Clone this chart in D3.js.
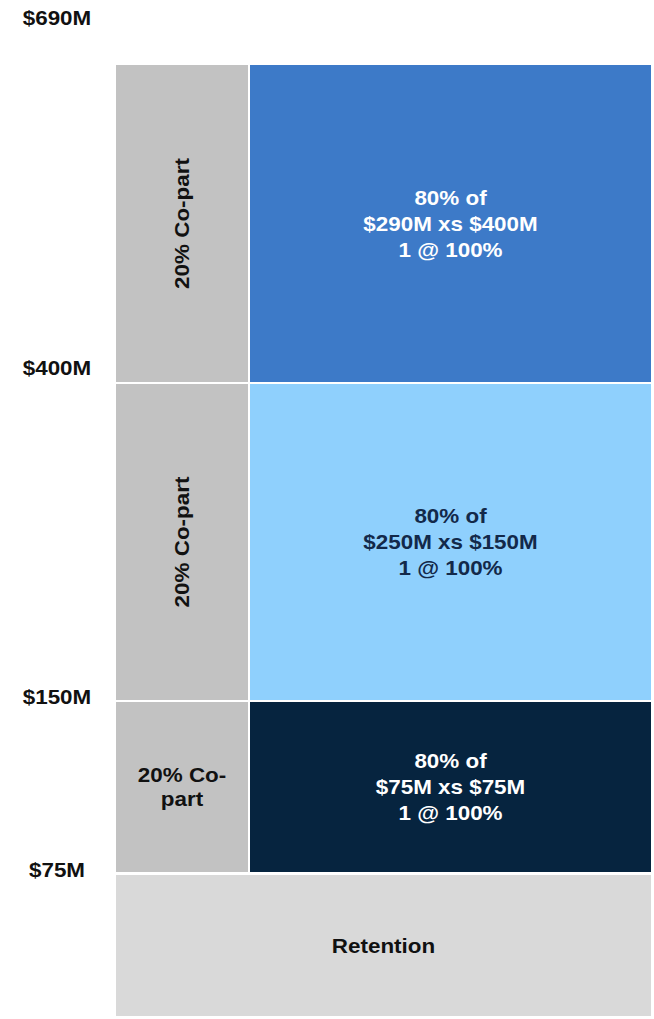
<!DOCTYPE html>
<html>
<head>
<meta charset="utf-8">
<script src="https://cdn.jsdelivr.net/npm/d3@7"></script>
<style>
  html, body { margin: 0; padding: 0; background: #fff; }
  svg { display: block; }
  text { font-family: "Liberation Sans", Arial, sans-serif; font-weight: bold; }
</style>
</head>
<body>
<svg id="chart" width="654" height="1019"></svg>
<script>
// ---- data ----
const tickValues = [690, 400, 150, 75];
const tickLabels = ["$690M", "$400M", "$150M", "$75M"];
const layerLow = [400, 150, 75];
const layerHigh = [690, 400, 150];
const layerLines = [
  ["80% of", "$290M xs $400M", "1 @ 100%"],
  ["80% of", "$250M xs $150M", "1 @ 100%"],
  ["80% of", "$75M xs $75M", "1 @ 100%"]
];
const coPartLabels = ["20% Co-part", "20% Co-part", "20% Co-part"];
const retentionLow = 0;
const retentionHigh = 75;
const retentionLabel = "Retention";

// ---- styles / layout ----
const layerColors = ["#3d7ac8", "#8fd0fd", "#06243f"];
const layerText = ["#ffffff", "#13294a", "#ffffff"];
const coPartColor = "#c2c2c2";
const retentionColor = "#d9d9d9";
const stretch = 1.15;
const fs = 19.5;

const svg = d3.select("#chart");

// piecewise scale (tower layers are not drawn to linear scale)
const y = d3.scaleLinear()
  .domain([0, 75, 150, 400, 690])
  .range([1016, 873, 701, 383, 65]);

const xCo0 = 116, xCo1 = 248, xL0 = 250, xL1 = 651;
const gap = 2;

function stretchedText(g, cx, cy, lines, color, lh, rotate) {
  const grp = g.append("g")
    .attr("transform", `translate(${cx},${cy})` + (rotate ? " rotate(-90)" : "") + ` scale(${stretch},1)`);
  const n = lines.length;
  lines.forEach((t, i) => {
    grp.append("text")
      .attr("x", 0)
      .attr("y", (i - (n - 1) / 2) * lh)
      .attr("dy", "0.36em")
      .attr("text-anchor", "middle")
      .attr("font-size", fs)
      .attr("fill", color)
      .text(t);
  });
}

// layers
layerLow.forEach((lo, i) => {
  const hi = layerHigh[i];
  const top = y(hi) + (i === 0 ? 0 : gap / 2);
  const bot = y(lo) - gap / 2;
  svg.append("rect").attr("x", xCo0).attr("y", top).attr("width", xCo1 - xCo0).attr("height", bot - top).attr("fill", coPartColor);
  svg.append("rect").attr("x", xL0).attr("y", top).attr("width", xL1 - xL0).attr("height", bot - top).attr("fill", layerColors[i]);
  const cy = (top + bot) / 2;
  stretchedText(svg, (xL0 + xL1) / 2, cy, layerLines[i], layerText[i], 26, false);
  const cx = (xCo0 + xCo1) / 2;
  if (bot - top > 250) {
    stretchedText(svg, cx, cy, [coPartLabels[i]], "#111", 24, true);
  } else {
    const parts = coPartLabels[i].split(" ");
    stretchedText(svg, cx, cy, [parts[0] + " Co-", parts[1].replace("Co-", "")], "#111", 24, false);
  }
});

// retention
const rTop = y(retentionHigh) + 2, rBot = y(retentionLow);
svg.append("rect").attr("x", xCo0).attr("y", rTop).attr("width", xL1 - xCo0).attr("height", rBot - rTop).attr("fill", retentionColor);
stretchedText(svg, (xCo0 + xL1) / 2, (rTop + rBot) / 2, [retentionLabel], "#111", 24, false);

// axis labels
const labelOffsets = [-47, -15, -4, -3];
tickValues.forEach((v, i) => {
  stretchedText(svg, 57, y(v) + labelOffsets[i], [tickLabels[i]], "#111", 24, false);
});
</script>
</body>
</html>
